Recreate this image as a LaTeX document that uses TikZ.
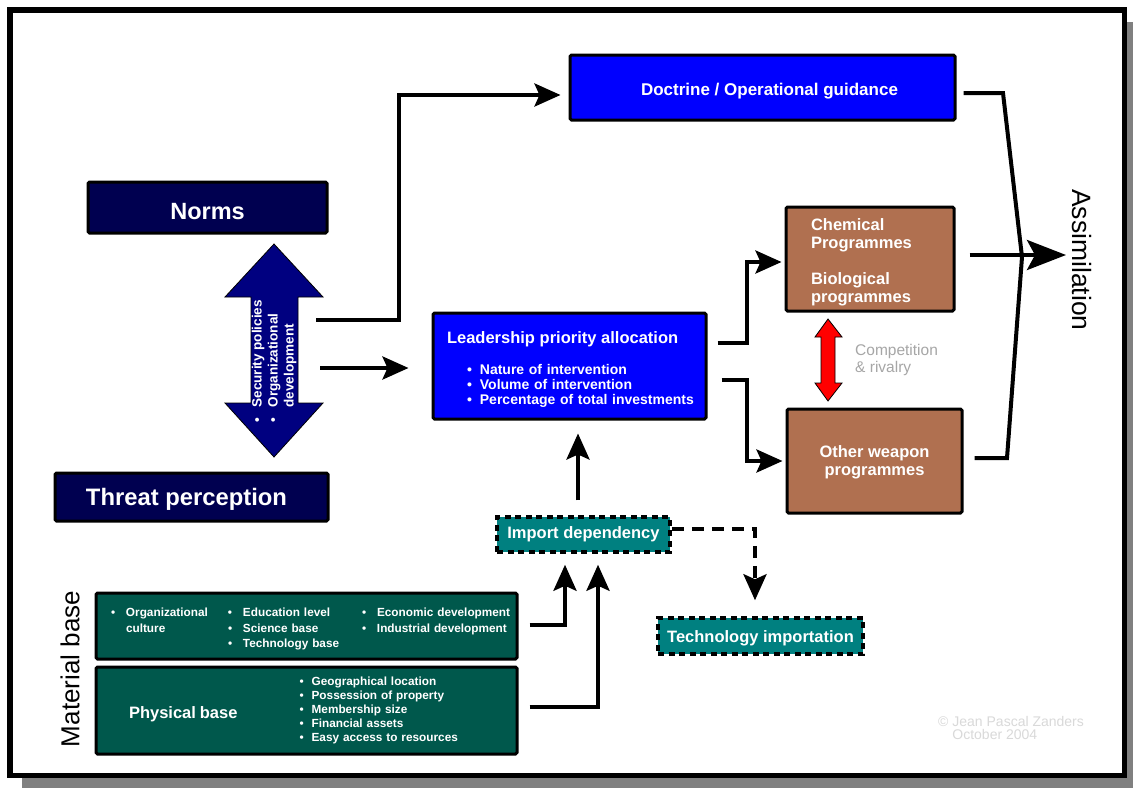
\documentclass[tikz,border=0pt]{standalone}
\usepackage{fontspec}
\setmainfont{Liberation Sans}
\usepackage{tikz}
\usetikzlibrary{arrows.meta,calc,positioning}

\definecolor{NavyFill}{RGB}{0,0,80}
\definecolor{ArrowNavy}{RGB}{0,0,128}
\definecolor{BrownFill}{RGB}{176,112,80}
\definecolor{GreenFill}{RGB}{0,88,76}
\definecolor{TealFill}{RGB}{0,128,128}

\newcommand{\fsz}[2]{\fontsize{#1}{#2}\selectfont}
\newcommand{\dropby}[2]{\raisebox{-#1}[\height][\depth]{#2}}

\tikzset{
	box/.style={draw=black, line width=3pt, rounded corners=1.5pt, inner sep=0pt, text=white},
	dashbox/.style={box, fill=TealFill, line width=3.5pt, rounded corners=0pt, dash pattern=on 6pt off 4.5pt},
	conn/.style={line width=4pt, -{Stealth[length=26pt,width=23pt,inset=5pt]}},
}

\begin{document}
\begin{tikzpicture}[x=1pt,y=-1pt]
		\useasboundingbox (0,0) rectangle (1133,788);
		\fill[gray] (22,22) rectangle (1133,788);
		\draw[line width=5.5pt, fill=white] (10,10) rectangle (1124.5,775.5);

		\node[box, fill=blue, minimum width=385pt, minimum height=65pt, font=\fsz{17}{19}\bfseries] (doc) at (762.5,87.5) {\dropby{4pt}{\hspace*{14pt}Doctrine / Operational guidance}};
		\node[box, fill=NavyFill, minimum width=239pt, minimum height=51pt, font=\fsz{23.5}{27}\bfseries] (norms) at (207.5,207.5) {\dropby{4pt}{Norms}};
		\node[box, fill=NavyFill, minimum width=273pt, minimum height=48pt, font=\fsz{23.8}{27}\bfseries] (threat) at (191.5,497) {\dropby{2pt}{Threat perception\hspace*{10pt}}};
		\node[box, fill=blue, minimum width=273pt, text width=273pt, minimum height=106pt, align=left, font=\fsz{14}{15}\bfseries] (lead) at (569.5,366) {\dropby{4pt}{%
			\begin{tabular}{@{\hspace{14pt}}l@{\hspace{8pt}}l@{}}
			\multicolumn{2}{@{\hspace{14pt}}l@{}}{\fsz{16.5}{19}Leadership priority allocation}\\[16pt]
			\hspace{20pt}• & Nature of intervention\\
			\hspace{20pt}• & Volume of intervention\\
			\hspace{20pt}• & Percentage of total investments
			\end{tabular}}};
		\node[box, fill=BrownFill, minimum width=168pt, text width=118pt, minimum height=104pt, align=left, font=\fsz{16.5}{18}\bfseries] (chem) at (870,259) {\dropby{4pt}{%
			\begin{tabular}{@{}l@{}}Chemical\\Programmes\\[18pt]Biological\\programmes\end{tabular}}};
		\node[box, fill=BrownFill, minimum width=175pt, minimum height=104pt, font=\fsz{16.5}{18}\bfseries] (other) at (874.5,461) {\dropby{2pt}{%
			\begin{tabular}{@{}c@{}}Other weapon\\programmes\end{tabular}}};
		\node[dashbox, minimum width=173pt, minimum height=35pt, font=\fsz{16.5}{19}\bfseries] (imp) at (583.5,534.5) {Import dependency};
		\node[dashbox, minimum width=205pt, minimum height=36pt, font=\fsz{16.5}{19}\bfseries] (tech) at (760.5,636) {\dropby{2pt}{Technology importation}};
		\node[box, fill=GreenFill, minimum width=421pt, text width=421pt, minimum height=66pt, align=left, font=\fsz{11.8}{15.5}\bfseries] (mat) at (306.5,626) {\dropby{3pt}{%
			\begin{tabular}{@{\hspace{15pt}}p{15pt}@{}p{102pt}@{}p{15pt}@{}p{119pt}@{}p{15pt}@{}l@{}}
			• & Organizational & • & Education level & • & Economic development\\
			  & culture & • & Science base & • & Industrial development\\
			  & & • & Technology base & &
			\end{tabular}}};
		\node[box, fill=GreenFill, minimum width=421pt, text width=421pt, minimum height=87pt, align=left, font=\fsz{11.8}{14}\bfseries] (phys) at (306.5,710.5) {%
			\begin{tabular}{@{\hspace{33pt}}l@{\hspace{62pt}}l@{}}
			\dropby{5pt}{\fsz{16.5}{19}Physical base} &
			\begin{tabular}{@{}l@{\hspace{8pt}}l@{}}
			• & Geographical location\\
			• & Possession of property\\
			• & Membership size\\
			• & Financial assets\\
			• & Easy access to resources
			\end{tabular}
			\end{tabular}};

		\draw[fill=ArrowNavy, line width=0.8pt] (274,244) -- (323,297) -- (298,297) -- (298,403) -- (323,403) -- (274,457) -- (225,403) -- (251,403) -- (251,297) -- (225,297) -- cycle;
		\node[rotate=90, text=white, inner sep=0pt, font=\fsz{13.5}{16}\bfseries] (secpol) at (274.5,361) {%
			\begin{tabular}{@{}l@{\hspace{10pt}}l@{}}• & Security policies\\• & Organizational\\ & development\end{tabular}};
		\draw[fill=red, line width=0.8pt] (828,319) -- (842,337) -- (835,337) -- (835,383) -- (842,383) -- (828,401) -- (815,383) -- (821,383) -- (821,337) -- (815,337) -- cycle;
		\node[anchor=west, align=left, inner sep=0pt, text=gray!70, font=\fsz{15.5}{17}] (comp) at (855,360) {Competition\\\& rivalry};

		\coordinate (secA) at (316,320);
		\coordinate (secB) at (320,368);
		\draw[conn] (secA) -- (399,320) |- ([xshift=-8pt,yshift=-7.5pt]doc.west);
		\draw[conn, shorten >=23pt] (secB) -- (secB -| lead.west);
		\draw[conn] ([xshift=10pt,yshift=23pt]lead.east) -- ++(29,0) |- ([xshift=-3pt,yshift=-3pt]chem.west);
		\draw[conn] ([xshift=14pt,yshift=-14pt]lead.east) -- ++(25,0) |- ([xshift=-3pt]other.west);
		\draw[line width=4pt] ([xshift=7pt,yshift=-5.5pt]doc.east) -- (1003,93) -- (1022,257) -- (1007,458) -- ([xshift=11pt,yshift=3pt]other.east);
		\node[rotate=-90, font=\fsz{26.5}{30}] (assim) at (1082,260) {Assimilation};
		\coordinate (assimin) at (1066,255);
		\draw[line width=4pt, -{Stealth[length=39pt,width=30pt,inset=8pt]}] ([xshift=14pt,yshift=4pt]chem.east) -- (assimin);
		\draw[conn] ([xshift=-5.5pt,yshift=15pt]imp.north) -- ([xshift=8.5pt,yshift=-13pt]lead.south);
		\draw[conn] ([xshift=11pt,yshift=1pt]mat.east) -| ([xshift=-18.5pt,yshift=-11pt]imp.south);
		\draw[conn] ([xshift=11pt,yshift=3.5pt]phys.east) -| ([xshift=14.5pt,yshift=-11pt]imp.south);
		\draw[conn, dash pattern=on 12pt off 8pt] ([yshift=5.5pt]imp.east) -| ([xshift=-5.5pt,yshift=16pt]tech.north);

		\node[rotate=90, font=\fsz{26}{30}] (matbase) at (70,669) {Material base};
		\node[anchor=west, align=left, inner sep=0pt, text=black!15, font=\fsz{14}{13.5}] (credit) at (938,728) {© Jean Pascal Zanders\\\phantom{© }October 2004};
\end{tikzpicture}
\end{document}
